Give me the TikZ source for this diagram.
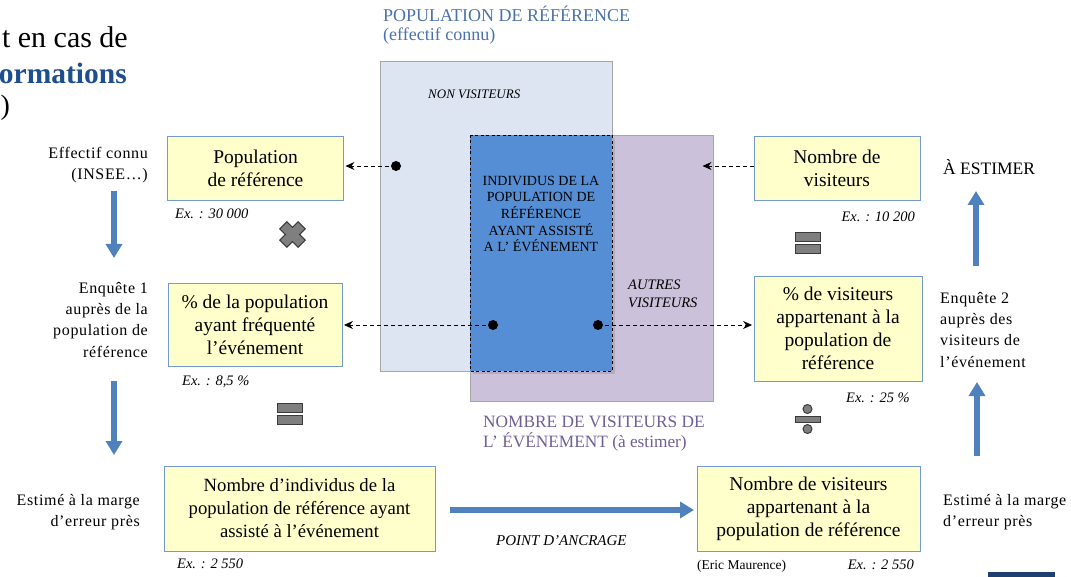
\documentclass[tikz,border=0pt]{standalone}
\usepackage{fontspec}
\setmainfont{Liberation Serif}
\usetikzlibrary{arrows.meta,shadows}
\definecolor{lblue}{HTML}{DCE5F1}
\definecolor{lpurp}{HTML}{CCC1DA}
\definecolor{mblue}{HTML}{558ED5}
\definecolor{yfill}{HTML}{FFFFCC}
\definecolor{yborder}{HTML}{7399CF}
\definecolor{arrblue}{HTML}{4F81BD}
\definecolor{titleblue}{HTML}{4A72A8}
\definecolor{purptext}{HTML}{6E5F96}
\definecolor{boldblue}{HTML}{1F4E8C}
\definecolor{symgray}{HTML}{7F7F7F}
\definecolor{symdark}{HTML}{3A3A3A}
\definecolor{barblue}{HTML}{1F3F70}
\newcommand\fsz[2]{\fontsize{#1}{#2}\selectfont}
\begin{document}
\begin{tikzpicture}[x=1pt,y=-1pt,
  yellowbox/.style={draw=yborder, fill=yfill, line width=0.9pt, align=center, inner sep=0pt, font=\fsz{19.5}{23}},
  bigarrow/.style={draw=arrblue, line width=6.5pt, -{Triangle[width=16pt,length=14pt]}},
  dasharrow/.style={draw=black, line width=0.8pt, dash pattern=on 4pt off 3pt, shorten >=1.5pt, -{Stealth[length=9pt,width=8pt,inset=3pt]}},
  dotnode/.style={circle, fill=black, inner sep=0pt, minimum size=10pt},
  sidelabel/.style={font=\fsz{16}{21.3}\addfontfeature{LetterSpace=4}, inner sep=0pt},
  exlabel/.style={font=\fsz{14.5}{17}\itshape, inner sep=0pt},
  symb/.style={fill=symgray, draw=symdark, line width=1pt},
  zone/.style={draw=gray!70, line width=0.8pt}
]
\useasboundingbox (0,0) rectangle (1071,577);
\clip (0,0) rectangle (1071,577);

% cut-off slide text
\node[anchor=base east, inner sep=0pt, font=\fsz{30}{32}] (cut1) at (128,48) {t en cas de};
\node[anchor=base east, inner sep=0pt, font=\fsz{29.5}{32}\bfseries, text=boldblue] (cut2) at (127,84) {ormations};
\node[anchor=base west, inner sep=0pt, font=\fsz{28}{30}] (cut3) at (0.5,115) {)};

% zones
\draw[zone, fill=lblue] (380,61) rectangle (612,371);
\draw[zone, fill=lpurp] (470,135) rectangle (713,401);
\path[fill=mblue, drop shadow={shadow xshift=3pt, shadow yshift=-3pt, opacity=0.3}] (470,135) rectangle (612,371);
\draw[line width=0.9pt, dash pattern=on 3pt off 2.5pt] (470,135) rectangle (612,371);

\node[anchor=base west, inner sep=0pt, font=\fsz{18}{20}, text=titleblue] (poptitle) at (383,22) {POPULATION DE RÉFÉRENCE};
\node[anchor=base west, inner sep=0pt, font=\fsz{18}{20}, text=titleblue] (popsub) at (383,41) {(effectif connu)};
\node[anchor=base west, inner sep=0pt, font=\fsz{13}{15}\itshape] (nonvis) at (428,99) {NON VISITEURS};
\node[align=center, inner sep=0pt, font=\fsz{14}{16.7}] (indiv) at (541,214) {INDIVIDUS DE LA\\POPULATION DE\\RÉFÉRENCE\\AYANT ASSISTÉ\\A L’ ÉVÉNEMENT};
\node[anchor=north west, align=left, inner sep=0pt, font=\fsz{14.5}{18}\itshape] (autres) at (628,279.5) {AUTRES\\VISITEURS};
\node[anchor=north west, align=left, inner sep=0pt, font=\fsz{17.3}{20.5}, text=purptext] (nbvis) at (483,415.5) {NOMBRE DE VISITEURS DE\\L’ ÉVÉNEMENT (à estimer)};

% yellow boxes
\node[yellowbox, minimum width=176pt, minimum height=64pt] (box1) at (255.5,168) {Population\\de référence};
\node[yellowbox, minimum width=174pt, minimum height=83pt] (box2) at (255,324.5) {\% de la population\\ayant fréquenté\\l’événement};
\node[yellowbox, minimum width=271pt, minimum height=85pt, font=\fsz{18.7}{23}] (box3) at (299.5,508.5) {Nombre d’individus de la\\population de référence ayant\\assisté à l’événement};
\node[yellowbox, minimum width=166pt, minimum height=64pt] (box4) at (837,168) {Nombre de\\visiteurs};
\node[yellowbox, minimum width=168pt, minimum height=105pt] (box5) at (838,328.5) {\% de visiteurs\\appartenant à la\\population de\\référence};
\node[yellowbox, minimum width=223pt, minimum height=85pt] (box6) at (808.5,508.5) {Nombre de visiteurs\\appartenant à la\\population de référence};

% example labels
\node[exlabel, anchor=base west] (ex1) at (175,219) {Ex. : 30 000};
\node[exlabel, anchor=base west] (ex2) at (182,385) {Ex. : 8,5 \%};
\node[exlabel, anchor=base west] (ex3) at (177,568) {Ex. : 2 550};
\node[exlabel, anchor=base east] (ex4) at (915,222) {Ex. : 10 200};
\node[exlabel, anchor=base east] (ex5) at (910,402) {Ex. : 25 \%};
\node[exlabel, anchor=base east] (ex6) at (914,569) {Ex. : 2 550};
\node[anchor=base west, inner sep=0pt, font=\fsz{13.5}{16}] (author) at (697,569) {(Eric Maurence)};
\node[anchor=base west, inner sep=0pt, font=\fsz{15}{18}\itshape] (ancrage) at (496,545) {POINT D’ANCRAGE};

% side labels
\node[sidelabel, anchor=north east, align=right] (effectif) at (148,147) {Effectif connu\\(INSEE…)};
\node[sidelabel, anchor=north east, align=right] (enq1) at (148,282) {Enquête 1\\auprès de la\\population de\\référence};
\node[sidelabel, anchor=north east, align=right] (estg) at (140,494) {Estimé à la marge\\d’erreur près};
\node[anchor=base west, inner sep=0pt, font=\fsz{17.5}{20}] (aestimer) at (943,175) {À ESTIMER};
\node[sidelabel, anchor=north west, align=left] (enq2) at (940,292) {Enquête 2\\auprès des\\visiteurs de\\l’événement};
\node[sidelabel, anchor=north west, align=left] (estd) at (943,494) {Estimé à la marge\\d’erreur près};

% big blue arrows
\coordinate (a1s) at (114,191); \coordinate (a1e) at (114,258);
\coordinate (a2s) at (114,381); \coordinate (a2e) at (114,455);
\coordinate (a3s) at (450,510); \coordinate (a3e) at (694,510);
\coordinate (a4s) at (977,456); \coordinate (a4e) at (977,382);
\coordinate (a5s) at (976,266); \coordinate (a5e) at (976,191);
\draw[bigarrow] (a1s) -- (a1e);
\draw[bigarrow] (a2s) -- (a2e);
\draw[bigarrow] (a3s) -- (a3e);
\draw[bigarrow] (a4s) -- (a4e);
\draw[bigarrow] (a5s) -- (a5e);

% dashed arrows and dots
\coordinate (dot1) at (396,166);
\coordinate (dot2) at (493,325);
\coordinate (dot3) at (598,325);
\coordinate (p4) at (701,166);
\draw[dasharrow] (dot1) -- (dot1 -| box1.east);
\draw[dasharrow] (p4 -| box4.west) -- (p4);
\draw[dasharrow] (dot2) -- (dot2 -| box2.east);
\draw[dasharrow] (dot3) -- (dot3 -| box5.west);
\node[dotnode] (d1) at (dot1) {};
\node[dotnode] (d2) at (dot2) {};
\node[dotnode] (d3) at (dot3) {};

% operator symbols
\begin{scope}[shift={(292.5,234.5)}, rotate=45]
  \draw[symb] (-5,-13) -- (5,-13) -- (5,-5) -- (13,-5) -- (13,5) -- (5,5) -- (5,13) -- (-5,13) -- (-5,5) -- (-13,5) -- (-13,-5) -- (-5,-5) -- cycle;
\end{scope}
\draw[symb] (277,403) rectangle (302,412);
\draw[symb] (277,415) rectangle (302,424);
\draw[symb] (795,233) rectangle (820,242);
\draw[symb] (795,245) rectangle (820,254);
\draw[symb] (795,416) rectangle (820,422);
\draw[symb] (807.5,409) circle[radius=4.5];
\draw[symb] (807.5,429) circle[radius=4.5];

% corner bar
\fill[barblue] (988,572) rectangle (1055,577);
\end{tikzpicture}
\end{document}
